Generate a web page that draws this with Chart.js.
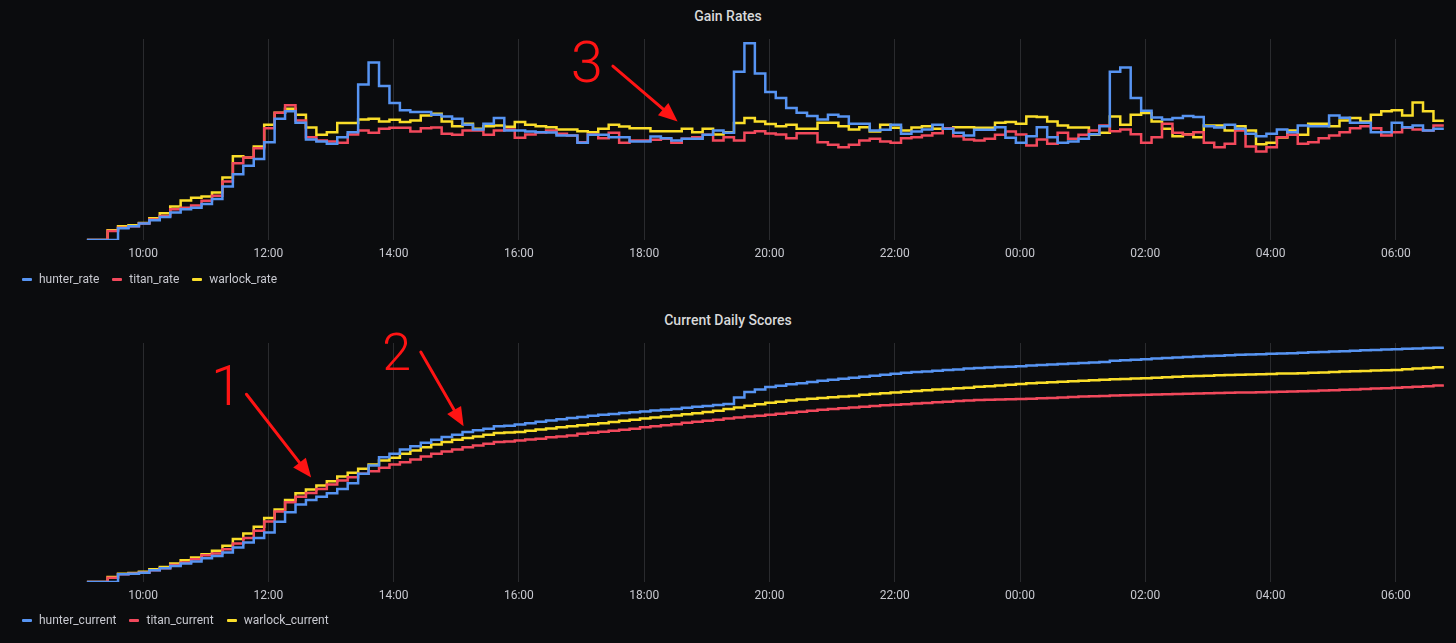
<!DOCTYPE html>
<html>
<head>
<meta charset="utf-8">
<script src="https://cdn.jsdelivr.net/npm/chart.js@4.4.1/dist/chart.umd.min.js"></script>
<style>
  body { margin: 0; background: #0b0c0e; width: 1456px; height: 643px; overflow: hidden; }
  canvas { position: absolute; left: 0; }
  .titolo { position: absolute; left: 0; width: 1456px; text-align: center; color: #d8d9da;
            font: 500 14px Roboto, sans-serif; line-height: 16px; }
  .legenda { position: absolute; left: 22px; display: flex; align-items: center;
             font: 12px Roboto, sans-serif; line-height: 16px; color: #c8c9d0; }
  .voce { display: flex; align-items: center; margin-right: 13px; }
  .segno { width: 10px; height: 3px; border-radius: 1px; margin-right: 7px; }
</style>
</head>
<body>
<div class="titolo" style="top:8px">Gain Rates</div>
<canvas id="rates" width="1456" height="300" style="top:0"></canvas>
<div class="legenda" id="legRates" style="top:271px"></div>

<div class="titolo" style="top:312px">Current Daily Scores</div>
<canvas id="scores" width="1456" height="343" style="top:300px"></canvas>
<div class="legenda" id="legScores" style="top:612px"></div>

<script>
// samples every 10 minutes, starting 09:06
const startMinute = 9 * 60 + 6;
const stepMinutes = 10;
const hourTicks = [600, 720, 840, 960, 1080, 1200, 1320, 1440, 1560, 1680, 1800];

const classi = ['hunter', 'titan', 'warlock'];
const colori = ['#5794F2', '#F2495C', '#FADE2A'];

const hunterRate = [0,0,0,11.7,13.7,16.3,19.7,23,27.3,30.7,
  32,35.7,40.7,53.3,65.3,74,80.7,97.3,120.7,128,
  116.7,100,98,95.7,102.3,107.3,154.7,176.7,153.3,136.3,
  129,127.3,127.3,124.7,123,120.7,114.7,110,115.7,121.3,
  109,109,108,107.3,107,104,104,96.7,104.7,104.7,
  102.3,102.3,98,98,103,101.3,99,100.7,100.7,104.7,
  109,106.7,167.3,195.7,165.7,147.3,141.3,131.3,126.7,123.3,
  120,124.7,123,115.7,115.7,109,109.7,114.7,105.7,108,
  110,114.7,110.7,106.7,104,109.7,109.7,112.3,101.7,96.7,
  103.3,112.3,102.3,96.7,98,100.7,105.3,113.3,167.3,171.7,
  141.3,128.7,122,120,121.3,123.3,122.3,113.3,112,114.7,
  110.7,105.7,103.3,105.7,110,107.3,114,113.3,113.3,124,
  121.7,116.7,116.7,107.3,107.3,116.7,112.3,114,109,110.7,
  110.7];

const titanRate = [0,0,9,12.3,13.7,16.3,20.3,24,30.7,32,
  34.3,39,44,58.3,76.3,82,91.3,111.3,126.7,134,
  119,102.3,99,98,96.7,105,109,106.7,110.7,111.7,
  111.7,108,111.3,112,105.7,104.7,109,109,104.7,109,
  110,101.7,105,107,109,105.7,104,97.3,105,101.3,
  106.7,96.7,99,99,99.7,100.7,96.7,100.7,102.3,104.7,
  99,102.3,99,106.7,108.3,106,105,101.3,106.3,106.3,
  97.3,94.7,92.3,94.7,99,100.7,98,96.7,101.3,102.3,
  104,106.3,111.3,103.3,100,99,100.7,104.7,108,105,
  94,100,95.7,106.7,100.7,104.7,109,114,108.3,110,
  105.3,96.7,102.3,115.7,106.7,105,107.3,96.7,92.3,95.7,
  109,93,88,92.3,102.3,104.7,95.7,97.3,101.3,104,
  107.3,111.3,113.3,111.3,104,107.3,111.7,110,109,114,
  114];

const warlockRate = [0,0,9.7,13.7,14.7,17,21.7,26.7,33.3,39.3,
  42,43.3,47.3,62.3,83.3,82,93,114.7,126.7,130.7,
  124.7,112,104.7,107.3,116.3,116.3,120,120.7,118,119.7,
  117.3,119,124,125.7,118,113.3,115.7,110.7,113.3,114,
  112.7,117.3,114.7,113.3,112.3,110,110,108.3,107.3,110.7,
  114.7,113,111.3,111.3,108.3,108.3,108.3,110.7,107.3,110.7,
  105,107.3,116.3,121.3,118,115.3,113.3,114.7,110.7,110.7,
  116.7,116.7,113.3,110,112.3,108,114.7,111.7,109,112,
  113.3,110.7,110.7,112.3,112.3,111.7,111.7,116.7,117.3,115.7,
  123,122.3,118,114,112,112,104.7,106.7,123,114.7,
  124.7,126.3,118,110.7,103.3,105.3,102.3,114,114,109,
  113.3,109,95.3,96.7,102,109,104.7,115.7,115.7,113.3,
  119,121.3,118,124.7,128,129,124,136.7,128,118.7,
  118.7];

const hunterCurrent = [0,0,0,7.7,8.3,9.3,11.7,13.7,16,18.3,
  20.3,23.7,26,29.3,34.3,39.3,43.7,49.3,60,69.5,
  77.3,81.7,85,88.3,92.7,98.3,107.7,116,124.3,127.7,
  132,135.3,138.7,141.7,144.3,146.7,149.3,151,152.7,155,
  155.6,156.9,158,159.6,160.8,162.1,163.3,164.4,165.5,166.5,
  167.4,168.2,169,169.8,170.7,171.5,172.4,173.4,174.5,175.3,
  176.3,177.3,183.7,189.3,191.7,194.3,195.5,196.8,198,199.2,
  200.3,201.5,202.5,203.4,204.3,205.3,206.4,207.4,208.4,209,
  209.6,210.3,211,211.7,212.5,213,213.5,214,214.3,214.9,
  215.6,216.1,216.5,217.1,217.6,218.2,218.7,219,220.3,220.8,
  221.4,221.9,222.5,223,223.5,224.1,224.6,225,225.4,225.8,
  226.2,226.6,226.9,227.2,227.5,227.9,228.3,228.7,229.1,229.5,
  229.9,230.3,230.7,231.1,231.5,231.9,232.2,232.5,233,233.3,
  233.7];

const titanCurrent = [0,0,4.3,7.7,8.3,9.3,11.7,13.7,17,19.3,
  22.7,26.7,28.3,32.7,38.3,43.7,51,60.3,70.3,79.3,
  85,88.7,92.7,97,101,104.3,107.7,110.3,113.7,117,
  119.3,122,125,127.7,130,132,134.3,136,137.7,139.3,
  139.9,140.8,141.8,142.7,144.1,145,146,147.6,148.6,149.6,
  150.6,151.6,152.7,154,155,156.1,157.2,158.5,159.6,160.6,
  161.6,162.7,163.8,164.7,165.6,166.6,167.6,168.6,169.6,170.6,
  171.5,172.3,173.1,173.8,174.6,175.3,175.9,176.4,177.1,177.7,
  178.3,178.9,179.6,180.2,180.8,181.2,181.6,181.8,181.9,182.3,
  182.6,183,183.3,183.8,184.2,184.6,185,185.3,185.6,185.9,
  186.2,186.4,186.6,186.9,187.2,187.5,187.7,187.9,188.1,188.4,
  188.6,188.8,189,189.2,189.5,189.7,190,190.3,190.6,191,
  191.4,191.8,192.2,192.6,193,193.4,193.9,194.4,195,195.6,
  196];

const warlockCurrent = [0,0,5,8.3,9,10.3,12.7,15,18.3,21.7,
  24.3,27.7,31,36,42.7,48.3,55,63.7,72.3,81.7,
  88.3,92,96,100.3,105,108.7,112.7,117,121,123.7,
  127.7,131,134.3,137,139.3,141.7,143.3,145,146.7,148.3,
  148.8,149.4,150.7,151.9,152.9,154,155,156.1,157.1,158.1,
  159.3,160.5,161.6,162.7,163.7,164.7,165.8,167,168.1,169.3,
  170.6,172.3,173.8,175.4,177,178.5,179.6,180.7,181.7,182.6,
  183.2,183.9,184.6,185.2,186.4,187.2,188,188.7,189.4,190.2,
  191,191.7,192.3,192.9,193.5,194.4,195,195.6,196.5,197.2,
  197.9,198.4,198.9,199.4,200,200.5,201,201.4,201.8,202.2,
  202.6,203,203.5,203.9,204.3,204.8,205.1,205.4,205.8,206.1,
  206.4,206.7,207,207.2,207.6,207.7,208,208.3,208.7,209.1,
  209.5,209.9,210.2,210.5,210.8,211.1,211.8,212.6,213.2,213.8,
  214.3];

// red hand-drawn marks: [minute, value] positions
const noteRates = [
  { text: '3', size: 58, at: [1025, 178], from: [1050, 173], to: [1112, 118] }
];
const noteScores = [
  { text: '1', size: 56, at: [680, 196], from: [699, 187], to: [761, 104] },
  { text: '2', size: 52, at: [843, 229], from: [866, 229], to: [907, 155] }
];

const times = hunterRate.map((v, i) => startMinute + i * stepMinutes);

function orario(m) {
  let h = Math.floor(m / 60) % 24;
  return String(h).padStart(2, '0') + ':' + String(m % 60).padStart(2, '0');
}

const notePlugin = {
  id: 'note',
  afterDraw(chart, args, opts) {
    const ctx = chart.ctx;
    const sx = chart.scales.x, sy = chart.scales.y;
    ctx.save();
    ctx.fillStyle = '#ff1414';
    ctx.strokeStyle = '#ff1414';
    (opts.items || []).forEach(n => {
      ctx.font = '300 ' + n.size + 'px Roboto';
      ctx.textAlign = 'center';
      ctx.textBaseline = 'alphabetic';
      ctx.fillText(n.text, sx.getPixelForValue(n.at[0]), sy.getPixelForValue(n.at[1]) + n.size * 0.355);

      let x0 = sx.getPixelForValue(n.from[0]), y0 = sy.getPixelForValue(n.from[1]);
      let x1 = sx.getPixelForValue(n.to[0]), y1 = sy.getPixelForValue(n.to[1]);
      let a = Math.atan2(y1 - y0, x1 - x0);
      ctx.lineWidth = 3;
      ctx.lineCap = 'round';
      ctx.beginPath();
      ctx.moveTo(x0, y0);
      ctx.lineTo(x1 - 12 * Math.cos(a), y1 - 12 * Math.sin(a));
      ctx.stroke();
      // punta della freccia
      ctx.beginPath();
      ctx.moveTo(x1, y1);
      ctx.lineTo(x1 - 19 * Math.cos(a) + 8 * Math.sin(a), y1 - 19 * Math.sin(a) - 8 * Math.cos(a));
      ctx.lineTo(x1 - 19 * Math.cos(a) - 8 * Math.sin(a), y1 - 19 * Math.sin(a) + 8 * Math.cos(a));
      ctx.closePath();
      ctx.fill();
    });
    ctx.restore();
  }
};

function creaGrafico(id, serie, nomi, yMax, padding, note) {
  let ctx = document.getElementById(id).getContext('2d');
  new Chart(ctx, {
    type: 'line',
    data: {
      labels: times,
      datasets: serie.map((valori, i) => ({
        label: nomi[i],
        data: valori,
        borderColor: colori[i],
        backgroundColor: colori[i],
        borderWidth: 2.5,
        pointRadius: 0,
        stepped: true,
        fill: false
      }))
    },
    options: {
      responsive: false,
      animation: false,
      layout: { padding: padding },
      plugins: {
        legend: { display: false },
        tooltip: { enabled: false },
        note: { items: note }
      },
      scales: {
        x: {
          type: 'linear',
          min: times[0],
          max: times[times.length - 1],
          grid: { color: 'rgba(204, 204, 220, 0.16)', drawTicks: false },
          border: { display: false },
          afterBuildTicks: axis => { axis.ticks = hourTicks.map(v => ({ value: v })); },
          ticks: {
            color: '#c8c9d0',
            font: { family: 'Roboto', size: 12 },
            padding: 7,
            maxRotation: 0,
            autoSkip: false,
            callback: v => orario(v)
          }
        },
        y: { display: false, min: 0, max: yMax }
      }
    },
    plugins: [notePlugin]
  });
}

function creaLegenda(id, nomi) {
  let box = document.getElementById(id);
  nomi.forEach((nome, i) => {
    let voce = document.createElement('div');
    voce.className = 'voce';
    let segno = document.createElement('span');
    segno.className = 'segno';
    segno.style.background = colori[i];
    let testo = document.createElement('span');
    testo.textContent = nome;
    voce.appendChild(segno);
    voce.appendChild(testo);
    box.appendChild(voce);
  });
}

const nomiRates = classi.map(c => c + '_rate');
const nomiScores = classi.map(c => c + '_current');

creaGrafico('rates', [hunterRate, titanRate, warlockRate], nomiRates, 200,
  { left: 86.7, right: 12.1, top: 39, bottom: 31.6 }, noteRates);
creaGrafico('scores', [hunterCurrent, titanCurrent, warlockCurrent], nomiScores, 238,
  { left: 86.7, right: 12.1, top: 43, bottom: 32.6 }, noteScores);

creaLegenda('legRates', nomiRates);
creaLegenda('legScores', nomiScores);
</script>
</body>
</html>
